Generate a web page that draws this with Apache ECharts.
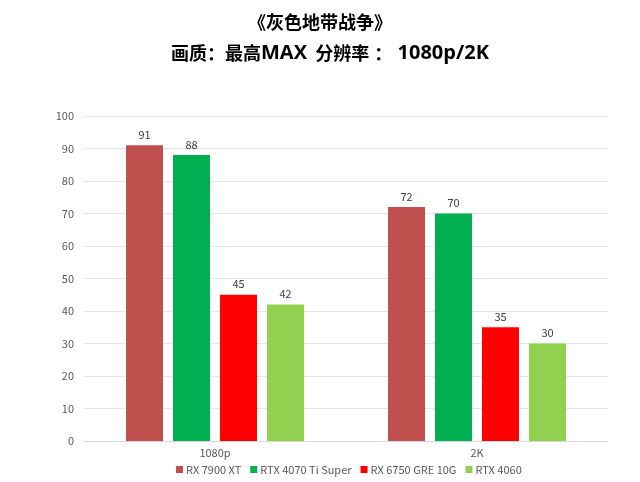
<!DOCTYPE html>
<html><head><meta charset="utf-8">
<script src="https://cdn.jsdelivr.net/npm/echarts@6/dist/echarts.min.js"></script>
<style>html,body{margin:0;padding:0;background:#fff}#c{width:640px;height:482px}</style>
</head><body><div id="c"></div>
<script>
const categories = ['1080p', '2K'];
const seriesNames = ['RX 7900 XT', 'RTX 4070 Ti Super', 'RX 6750 GRE 10G', 'RTX 4060'];
const rx7900xt = [91, 72];
const rtx4070tis = [88, 70];
const rx6750gre = [45, 35];
const rtx4060 = [42, 30];
const colors = ['#C0504D', '#00B050', '#FF0000', '#92D050'];
const values = [rx7900xt, rtx4070tis, rx6750gre, rtx4060];
const font = '"Noto Sans CJK SC", "Noto Sans", sans-serif';
const cjk = {fontFamily: '"Noto Sans CJK SC"', fontSize: 18, fontWeight: 'bold', color: '#000'};
const lat = {fontFamily: '"Open Sans", "Noto Sans CJK SC"', fontSize: 20, fontWeight: 'bold', color: '#000'};
const chart = echarts.init(document.getElementById('c'));
chart.setOption({
  animation: false,
  textStyle: {fontFamily: font},
  title: [
    {text: '{c|《灰色地带战争》}', left: 'center', top: 8, textStyle: {rich: {c: cjk}}},
    {text: '{c|画质：最高}{l|MAX}{c|  分辨率}{l| }{c|：}{l| 1080p/2K}', left: 166, top: 38, textStyle: {rich: {c: cjk, l: lat}}}
  ],
  legend: {
    bottom: 2, left: 171, itemWidth: 7, itemHeight: 7, itemGap: 9, icon: 'rect',
    textStyle: {fontSize: 11, color: '#595959', fontFamily: font, padding: [0, 0, 0, -2]},
    data: seriesNames
  },
  grid: {left: 84, right: 32, top: 116, bottom: 41},
  xAxis: {
    type: 'category', data: categories,
    axisLine: {lineStyle: {color: '#d9d9d9'}}, axisTick: {show: false},
    axisLabel: {color: '#595959', fontSize: 11, margin: 6}
  },
  yAxis: {
    type: 'value', min: 0, max: 100, interval: 10,
    axisLine: {show: false}, axisTick: {show: false},
    splitLine: {lineStyle: {color: '#e6e6e6'}},
    axisLabel: {color: '#595959', fontSize: 11, margin: 10}
  },
  series: seriesNames.map((n, i) => ({
    name: n, type: 'bar', data: values[i], barWidth: 37, barGap: '27%',
    itemStyle: {color: colors[i]},
    label: {show: true, position: 'top', color: '#404040', fontSize: 11, distance: 5}
  }))
});
</script></body></html>
